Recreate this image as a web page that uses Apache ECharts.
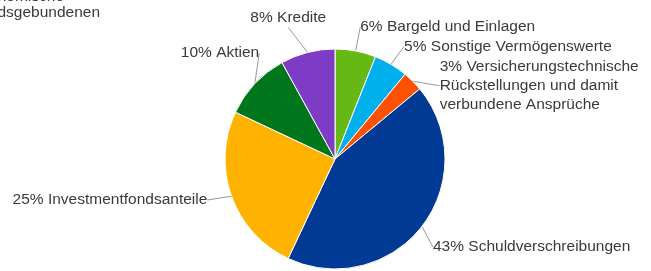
<!DOCTYPE html>
<html>
<head>
<meta charset="utf-8">
<script src="https://cdn.jsdelivr.net/npm/echarts@6/dist/echarts.min.js"></script>
<style>
  html, body { margin: 0; padding: 0; background: #fff; }
  #chart { width: 651px; height: 271px; }
</style>
</head>
<body>
<div id="chart"></div>
<script>
// Anteile in Prozent, im Uhrzeigersinn ab 12 Uhr
const categories = [
  'Bargeld und Einlagen',
  'Sonstige Vermögenswerte',
  'Versicherungstechnische\nRückstellungen und damit\nverbundene Ansprüche',
  'Schuldverschreibungen',
  'Investmentfondsanteile',
  'Aktien',
  'Kredite'
];
const values = [6, 5, 3, 43, 25, 10, 8];
const colors = ['#66b814', '#00b0ec', '#ff5100', '#003a94', '#ffb300', '#00761c', '#7e3cc6'];
// abgeschnittene Beschriftung oben links
const cutLabel = ['ökonomische', 'fondsgebundenen'];

// Verschiebung der Beschriftung gegenüber dem Ende der Führungslinie
const labelShift = [
    { dx: 2, dy: -10, align: 'left', va: 'middle' },
    { dx: 6, dy: -6, align: 'left', va: 'middle' },
    { dx: 17, dy: -14, align: 'left', va: 'top' },
    { dx: 0, dy: 12, align: 'left', va: 'middle' },
    { dx: -11, dy: -1, align: 'right', va: 'middle' },
    { dx: 19, dy: -17, align: 'right', va: 'middle' },
    { dx: 22, dy: -21, align: 'right', va: 'middle' }
];

let myChart = echarts.init(document.getElementById('chart'));

let pieData = [];
for (let i = 0; i < categories.length; i++) {
    let item = {
        name: categories[i],
        value: values[i],
        itemStyle: { color: colors[i] }
    };
    if (i == 5) {
        item.labelLine = { length: 20 };
    }
    pieData.push(item);
}

myChart.setOption({
    animation: false,
    backgroundColor: '#fff',
    textStyle: { fontFamily: 'Liberation Sans, Arial, sans-serif' },
    graphic: [
        {
            type: 'text', right: 587, top: -11,
            style: { text: cutLabel[0], fill: '#3a3a3a', font: '15.5px Liberation Sans' }
        },
        {
            type: 'text', right: 551, top: 5,
            style: { text: cutLabel[1], fill: '#3a3a3a', font: '15.5px Liberation Sans' }
        }
    ],
    series: [{
        type: 'pie',
        center: [335, 159],
        radius: 110,
        startAngle: 90,
        clockwise: true,
        avoidLabelOverlap: false,
        data: pieData,
        itemStyle: { borderColor: '#fff', borderWidth: 1 },
        label: {
            show: true,
            formatter: function (p) { return p.value + '% ' + p.name; },
            fontSize: 15.5,
            lineHeight: 19,
            color: '#3a3a3a',
            fontFamily: 'Liberation Sans'
        },
        labelLine: {
            show: true,
            length: 14,
            length2: 0,
            lineStyle: { color: '#999', width: 1 }
        },
        labelLayout: function (params) {
            let s = labelShift[params.dataIndex];
            let pts = params.labelLinePoints;
            if (!pts) return {};
            let end = pts[pts.length - 1];
            return {
                x: end[0] + s.dx,
                y: end[1] + s.dy,
                align: s.align,
                verticalAlign: s.va,
                hideOverlap: false
            };
        }
    }]
});
</script>
</body>
</html>
